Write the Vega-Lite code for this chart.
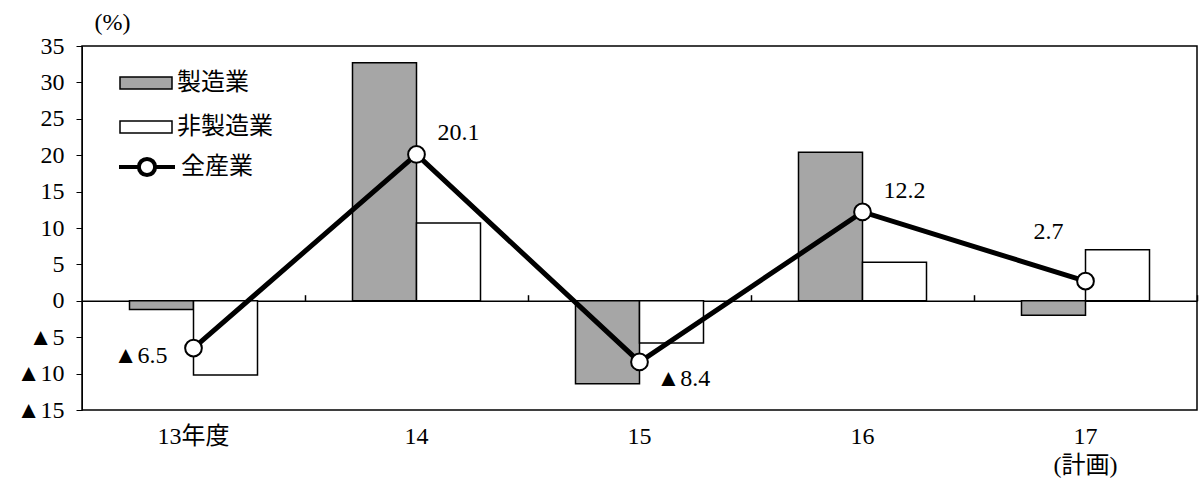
{
  "$schema": "https://vega.github.io/schema/vega-lite/v6.json",
  "width": 1115,
  "height": 364,
  "autosize": {"type": "none"},
  "padding": {"left": 82, "top": 46, "right": 2, "bottom": 72},
  "background": "white",
  "config": {
    "view": {"stroke": "black", "strokeWidth": 1.5},
    "font": "Liberation Serif, Noto Sans CJK JP",
    "axis": {"labelFont": "Liberation Serif, Noto Sans CJK JP", "labelColor": "black", "labelFontSize": 24, "grid": false},
    "axisY": {"labelOverlap": false}
  },
  "datasets": {
    "bars": [
      {"year": "13年度", "series": "製造業", "value": -1.2},
      {"year": "13年度", "series": "非製造業", "value": -10.2},
      {"year": "14", "series": "製造業", "value": 32.7},
      {"year": "14", "series": "非製造業", "value": 10.7},
      {"year": "15", "series": "製造業", "value": -11.4},
      {"year": "15", "series": "非製造業", "value": -5.8},
      {"year": "16", "series": "製造業", "value": 20.4},
      {"year": "16", "series": "非製造業", "value": 5.3},
      {"year": "17", "series": "製造業", "value": -2.0},
      {"year": "17", "series": "非製造業", "value": 7.0}
    ],
    "total": [
      {"year": "13年度", "series": "全産業", "value": -6.5, "label": "▲6.5"},
      {"year": "14", "series": "全産業", "value": 20.1, "label": "20.1"},
      {"year": "15", "series": "全産業", "value": -8.4, "label": "▲8.4"},
      {"year": "16", "series": "全産業", "value": 12.2, "label": "12.2"},
      {"year": "17", "series": "全産業", "value": 2.7, "label": "2.7"}
    ]
  },
  "encoding": {
    "x": {
      "field": "year", "type": "nominal", "sort": ["13年度", "14", "15", "16", "17"],
      "scale": {"domain": ["13年度", "14", "15", "16", "17"], "paddingInner": 0.426, "paddingOuter": 0.213},
      "axis": null
    },
    "y": {
      "field": "value", "type": "quantitative",
      "scale": {"domain": [-15, 35], "nice": false, "zero": false},
      "axis": {
        "title": "(%)", "titleAngle": 0, "titleAlign": "left", "titleBaseline": "middle",
        "titleX": 12, "titleY": -24, "titleFont": "Liberation Serif, Noto Sans CJK JP",
        "titleFontSize": 24, "titleFontWeight": "normal", "titleColor": "black",
        "values": [-15, -10, -5, 0, 5, 10, 15, 20, 25, 30, 35], "labelOverlap": false,
        "tickSize": 6, "tickColor": "black", "domainColor": "black", "labelPadding": 12,
        "labelExpr": "datum.value < 0 ? '▲' + abs(datum.value) : datum.label"
      }
    }
  },
  "layer": [
    {
      "data": {"name": "bars"},
      "mark": {"type": "bar", "stroke": "black", "strokeWidth": 1.5},
      "encoding": {
        "x": {
          "field": "year", "type": "nominal", "sort": ["13年度", "14", "15", "16", "17"],
          "axis": {
            "orient": "bottom", "title": null, "domain": false, "ticks": false,
            "labelAngle": 0, "labelPadding": 14, "labelBaseline": "top", "labelLineHeight": 29,
            "labelExpr": "datum.value == '17' ? ['17', '(計画)'] : datum.label"
          }
        },
        "xOffset": {"field": "series", "type": "nominal", "sort": ["製造業", "非製造業"], "scale": {"paddingInner": 0, "paddingOuter": 0}},
        "fill": {
          "field": "series", "type": "nominal",
          "scale": {"domain": ["製造業", "非製造業"], "range": ["#a6a6a6", "#ffffff"]},
          "legend": {
            "orient": "none", "legendX": 37, "legendY": 10, "title": null, "padding": 0,
            "symbolType": "M-1,-0.23H1V0.23H-1Z", "symbolSize": 2704,
            "symbolStrokeColor": "black", "symbolStrokeWidth": 1.5,
            "labelFontSize": 24, "labelColor": "black", "labelFont": "Noto Sans CJK JP",
            "labelOffset": 4, "rowPadding": 5
          }
        }
      }
    },
    {
      "data": {"name": "total"},
      "mark": {"type": "point", "opacity": 0},
      "encoding": {
        "x": {
          "field": "year", "type": "nominal", "sort": ["13年度", "14", "15", "16", "17"],
          "axis": {
            "orient": "top", "offset": -254.7, "title": null, "labels": false,
            "domain": true, "domainColor": "black", "domainWidth": 1.5,
            "ticks": true, "tickOffset": 111.5, "tickSize": 6, "tickColor": "black", "tickWidth": 1.5
          }
        }
      }
    },
    {
      "data": {"name": "total"},
      "mark": {"type": "line", "strokeWidth": 5},
      "encoding": {
        "stroke": {
          "field": "series", "type": "nominal",
          "scale": {"domain": ["全産業"], "range": ["black"]},
          "legend": {
            "orient": "none", "legendX": 35, "legendY": 91, "title": null, "padding": 0,
            "symbolType": "M-1,0H-0.29M0.29,0H1M0.29,0A0.29,0.29 0 1 1 -0.29,0A0.29,0.29 0 1 1 0.29,0",
            "symbolSize": 3136, "symbolFillColor": "white", "symbolStrokeColor": "black",
            "symbolStrokeWidth": 4,
            "labelFontSize": 24, "labelColor": "black", "labelFont": "Noto Sans CJK JP",
            "labelOffset": 4
          }
        }
      }
    },
    {
      "data": {"name": "total"},
      "mark": {"type": "point", "filled": true, "fill": "white", "stroke": "black", "strokeWidth": 2, "size": 280, "opacity": 1}
    },
    {
      "data": {"name": "total"},
      "transform": [{"filter": "datum.year == '13年度'"}],
      "mark": {"type": "text", "align": "right", "baseline": "middle", "dx": -26, "dy": 8, "fontSize": 24, "font": "Liberation Serif, Noto Sans CJK JP"},
      "encoding": {"text": {"field": "label"}}
    },
    {
      "data": {"name": "total"},
      "transform": [{"filter": "datum.year == '14' || datum.year == '16'"}],
      "mark": {"type": "text", "align": "left", "baseline": "middle", "dx": 21, "dy": -21, "fontSize": 24, "font": "Liberation Serif, Noto Sans CJK JP"},
      "encoding": {"text": {"field": "label"}}
    },
    {
      "data": {"name": "total"},
      "transform": [{"filter": "datum.year == '15'"}],
      "mark": {"type": "text", "align": "left", "baseline": "middle", "dx": 17, "dy": 17, "fontSize": 24, "font": "Liberation Serif, Noto Sans CJK JP"},
      "encoding": {"text": {"field": "label"}}
    },
    {
      "data": {"name": "total"},
      "transform": [{"filter": "datum.year == '17'"}],
      "mark": {"type": "text", "align": "right", "baseline": "middle", "dx": -22, "dy": -49, "fontSize": 24, "font": "Liberation Serif, Noto Sans CJK JP"},
      "encoding": {"text": {"field": "label"}}
    }
  ],
  "resolve": {"axis": {"x": "independent"}}
}
